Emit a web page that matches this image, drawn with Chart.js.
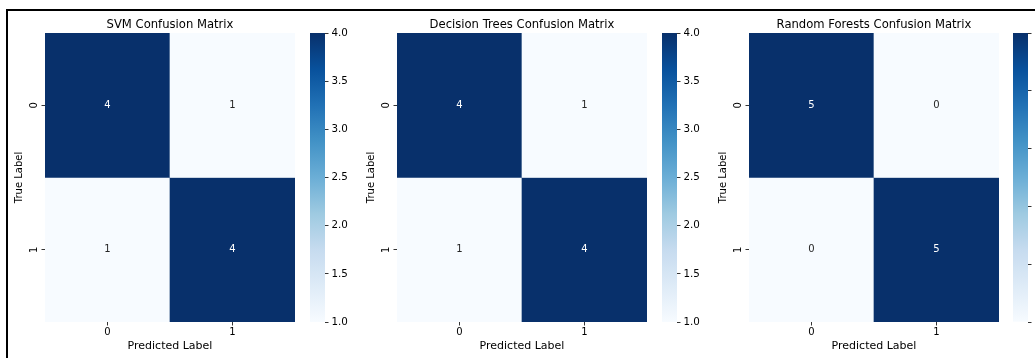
<!DOCTYPE html>
<html>
<head>
<meta charset="utf-8">
<script src="https://cdn.jsdelivr.net/npm/chart.js@4.4.0/dist/chart.umd.min.js"></script>
<style>
  html, body { margin: 0; padding: 0; background: #fff; overflow: hidden; }
  #wrap { position: relative; width: 1035px; height: 358px; overflow: hidden; }
  #frame { position: absolute; left: 6px; top: 9px; width: 1100px; height: 400px;
           border-left: 2px solid #000; border-top: 2px solid #000; }
  canvas { position: absolute; top: 0; }
</style>
</head>
<body>
<div id="wrap">
  <div id="frame"></div>
  <canvas id="hm0" width="300" height="358" style="left:0px"></canvas>
  <canvas id="cb0" width="60" height="358" style="left:310px"></canvas>
  <canvas id="hm1" width="300" height="358" style="left:352px"></canvas>
  <canvas id="cb1" width="60" height="358" style="left:662px"></canvas>
  <canvas id="hm2" width="300" height="358" style="left:704px"></canvas>
  <canvas id="cb2" width="60" height="358" style="left:1013px"></canvas>
</div>
<script>
// data
const titles = ['SVM Confusion Matrix', 'Decision Trees Confusion Matrix', 'Random Forests Confusion Matrix'];
const classLabels = ['0', '1'];
const svmMatrix = [[4, 1], [1, 4]];
const treeMatrix = [[4, 1], [1, 4]];
const forestMatrix = [[5, 0], [0, 5]];
const xAxisTitle = 'Predicted Label';
const yAxisTitle = 'True Label';
const cbTicks = [
  [1.0, 1.5, 2.0, 2.5, 3.0, 3.5, 4.0],
  [1.0, 1.5, 2.0, 2.5, 3.0, 3.5, 4.0],
  [0, 1, 2, 3, 4, 5]
];
const cbTickLabels = [
  ['1.0', '1.5', '2.0', '2.5', '3.0', '3.5', '4.0'],
  ['1.0', '1.5', '2.0', '2.5', '3.0', '3.5', '4.0'],
  ['0', '1', '2', '3', '4', '5']
];

const matrices = [svmMatrix, treeMatrix, forestMatrix];

// matplotlib "Blues"
const bluesStops = ['#f7fbff', '#deebf7', '#c6dbef', '#9ecae1', '#6baed6', '#4292c6', '#2171b5', '#08519c', '#08306b'];

function hexRgb(h) {
  return [parseInt(h.substr(1, 2), 16), parseInt(h.substr(3, 2), 16), parseInt(h.substr(5, 2), 16)];
}

function blues(t) {
  t = Math.max(0, Math.min(1, t));
  const p = t * (bluesStops.length - 1);
  const i = Math.min(Math.floor(p), bluesStops.length - 2);
  const f = p - i;
  const a = hexRgb(bluesStops[i]), b = hexRgb(bluesStops[i + 1]);
  return a.map((v, k) => Math.round(v + (b[k] - v) * f));
}

function luminance(rgb) {
  const c = rgb.map(v => {
    v = v / 255;
    return v <= 0.03928 ? v / 12.92 : Math.pow((v + 0.055) / 1.055, 2.4);
  });
  return 0.2126 * c[0] + 0.7152 * c[1] + 0.0722 * c[2];
}

const FONT = 'DejaVu Sans';
const tickFont = { family: FONT, size: 10 };

// title plugin (centered over the heatmap cells)
const heatTitle = {
  id: 'heatTitle',
  afterDraw(chart) {
    const { ctx, chartArea } = chart;
    ctx.save();
    ctx.font = '11.6px "' + FONT + '"';
    ctx.fillStyle = '#000';
    ctx.textAlign = 'center';
    ctx.textBaseline = 'alphabetic';
    ctx.fillText(chart.options.heatTitleText, (chartArea.left + chartArea.right) / 2, 27.5);
    ctx.restore();
  }
};

// numbers inside cells
const annot = {
  id: 'annot',
  afterDatasetsDraw(chart) {
    const ctx = chart.ctx;
    ctx.save();
    ctx.font = '10px "' + FONT + '"';
    ctx.textAlign = 'center';
    ctx.textBaseline = 'middle';
    chart.data.datasets.forEach((ds, r) => {
      chart.getDatasetMeta(r).data.forEach((bar, c) => {
        const rgb = ds.cellRgb[c];
        ctx.fillStyle = luminance(rgb) > 0.408 ? '#262626' : '#ffffff';
        const p = bar.getProps(['x', 'y', 'base'], true);
        ctx.fillText(String(ds.values[c]), p.x, (p.y + p.base) / 2);
      });
    });
    ctx.restore();
  }
};

const tickGrid = {
  offset: false,
  drawOnChartArea: false,
  drawTicks: true,
  tickLength: 3.5,
  tickWidth: 0.8,
  tickColor: '#000'
};

function drawHeatmap(id, title, matrix) {
  const flat = matrix.flat();
  const vmin = Math.min(...flat), vmax = Math.max(...flat);
  const datasets = matrix.map((row, r) => {
    const cellRgb = row.map(v => blues((v - vmin) / (vmax - vmin)));
    return {
      data: row.map(() => [r, r + 1]),
      values: row,
      cellRgb: cellRgb,
      backgroundColor: cellRgb.map(c => 'rgb(' + c.join(',') + ')'),
      borderWidth: 0,
      borderSkipped: false,
      barPercentage: 1,
      categoryPercentage: 1,
      grouped: false
    };
  });

  new Chart(document.getElementById(id), {
    type: 'bar',
    data: { labels: classLabels, datasets: datasets },
    options: {
      responsive: false,
      animation: false,
      events: [],
      devicePixelRatio: 1,
      heatTitleText: title,
      layout: { padding: { top: 33, right: 5, left: 0, bottom: 0 } },
      plugins: { legend: { display: false }, tooltip: { enabled: false }, title: { display: false } },
      scales: {
        x: {
          type: 'category',
          offset: true,
          grid: tickGrid,
          border: { display: false },
          ticks: { color: '#000', font: tickFont, padding: 1, maxRotation: 0 },
          title: { display: true, text: xAxisTitle, color: '#000', font: { family: FONT, size: 11 }, padding: { top: 0, bottom: 5 } },
          afterFit: (s) => { s.height = 36; }
        },
        y: {
          type: 'linear',
          min: 0,
          max: classLabels.length,
          reverse: true,
          afterBuildTicks: (s) => { s.ticks = classLabels.map((_, i) => ({ value: i + 0.5 })); },
          grid: tickGrid,
          border: { display: false },
          ticks: {
            color: '#000', font: tickFont, padding: 4,
            minRotation: 90, maxRotation: 90, crossAlign: 'center',
            callback: (v, i) => classLabels[i]
          },
          title: { display: true, text: yAxisTitle, color: '#000', font: tickFont, padding: { top: 13, bottom: 0 } },
          afterFit: (s) => { s.width = 45; }
        }
      }
    },
    plugins: [annot, heatTitle]
  });
}

function drawColorbar(id, matrix, ticks, labels) {
  const flat = matrix.flat();
  const vmin = Math.min(...flat), vmax = Math.max(...flat);
  new Chart(document.getElementById(id), {
    type: 'bar',
    data: {
      labels: [''],
      datasets: [{
        data: [[vmin, vmax]],
        borderWidth: 0,
        borderSkipped: false,
        barPercentage: 1,
        categoryPercentage: 1,
        backgroundColor: (c) => {
          const area = c.chart.chartArea;
          if (!area) return bluesStops[0];
          const g = c.chart.ctx.createLinearGradient(0, area.bottom, 0, area.top);
          bluesStops.forEach((col, i) => g.addColorStop(i / (bluesStops.length - 1), col));
          return g;
        }
      }]
    },
    options: {
      responsive: false,
      animation: false,
      events: [],
      devicePixelRatio: 1,
      layout: { padding: { top: 33, bottom: 36, left: 0, right: 0 } },
      plugins: { legend: { display: false }, tooltip: { enabled: false } },
      scales: {
        x: { display: false },
        y: {
          position: 'right',
          min: vmin,
          max: vmax,
          afterBuildTicks: (s) => { s.ticks = ticks.map(v => ({ value: v })); },
          grid: tickGrid,
          border: { display: false },
          ticks: {
            color: '#000', font: { family: FONT, size: 10.3 }, padding: 3,
            callback: (v, i) => labels[i]
          },
          afterFit: (s) => { s.width = 45; }
        }
      }
    }
  });
}

matrices.forEach((m, i) => {
  drawHeatmap('hm' + i, titles[i], m);
  drawColorbar('cb' + i, m, cbTicks[i], cbTickLabels[i]);
});
</script>
</body>
</html>
